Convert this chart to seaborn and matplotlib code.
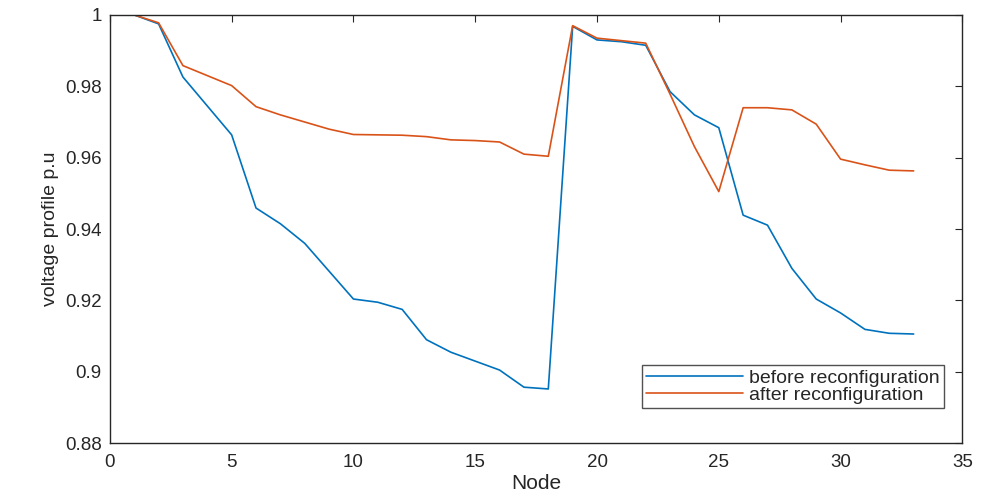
import numpy as np
import pandas as pd
import matplotlib
matplotlib.use('Agg')
import matplotlib.pyplot as plt
import seaborn as sns

nodes = list(range(1, 34))
before = [1.0, 0.9975, 0.9826, 0.9745, 0.9664, 0.9459, 0.9415, 0.9360, 0.9282,
          0.9204, 0.9195, 0.9175, 0.9090, 0.9055, 0.9030, 0.9005, 0.8957, 0.8952,
          0.9968, 0.9930, 0.9925, 0.9915, 0.9785, 0.9720, 0.9684, 0.9439, 0.9411,
          0.9290, 0.9204, 0.9165, 0.9119, 0.9108, 0.9106]
after = [1.0, 0.9978, 0.9858, 0.9830, 0.9802, 0.9743, 0.9720, 0.9700, 0.9680,
         0.9665, 0.9664, 0.9663, 0.9659, 0.9650, 0.9648, 0.9644, 0.9610, 0.9604,
         0.9970, 0.9935, 0.9928, 0.9921, 0.9778, 0.9631, 0.9505, 0.9740, 0.9740,
         0.9734, 0.9694, 0.9596, 0.9580, 0.9565, 0.9563]
labels = ['before reconfiguration', 'after reconfiguration']
colors = ['#0072BD', '#D95319']

df = pd.DataFrame({'Node': nodes * 2,
                   'v': before + after,
                   'case': [labels[0]] * len(nodes) + [labels[1]] * len(nodes)})

sns.set_style('white')
plt.rcParams['font.family'] = ['Liberation Sans', 'DejaVu Sans']

fig = plt.figure(figsize=(9.81, 4.98), dpi=100)
ax = fig.add_axes([0.112, 0.110, 0.869, 0.860])
sns.lineplot(data=df, x='Node', y='v', hue='case', palette=colors,
             linewidth=1.2, ax=ax)

ax.set_xlim(0, 35)
ax.set_ylim(0.88, 1.0)
ax.set_xticks(np.arange(0, 36, 5))
ax.set_yticks([0.88, 0.90, 0.92, 0.94, 0.96, 0.98, 1.0])
ax.set_yticklabels(['0.88', '0.9', '0.92', '0.94', '0.96', '0.98', '1'])
ax.tick_params(direction='in', length=5, width=0.8, colors='#262626',
               labelsize=13.5, top=True, right=True, pad=6)
ax.tick_params(axis='x', pad=8)
for s in ax.spines.values():
    s.set_color('#262626')
    s.set_linewidth(1.0)
ax.set_xlabel('Node', fontsize=15, color='#262626', labelpad=2)
ax.set_ylabel('voltage profile p.u', fontsize=14, color='#262626', labelpad=4)

leg = ax.legend(loc='lower right', bbox_to_anchor=(0.978, 0.082), fontsize=14,
                frameon=True, fancybox=False, edgecolor='#262626',
                borderpad=0.2, borderaxespad=0, handlelength=5.0,
                handletextpad=0.3, labelspacing=0.0)
leg.get_frame().set_linewidth(1.0)

fig.savefig('out.png', dpi=100)
